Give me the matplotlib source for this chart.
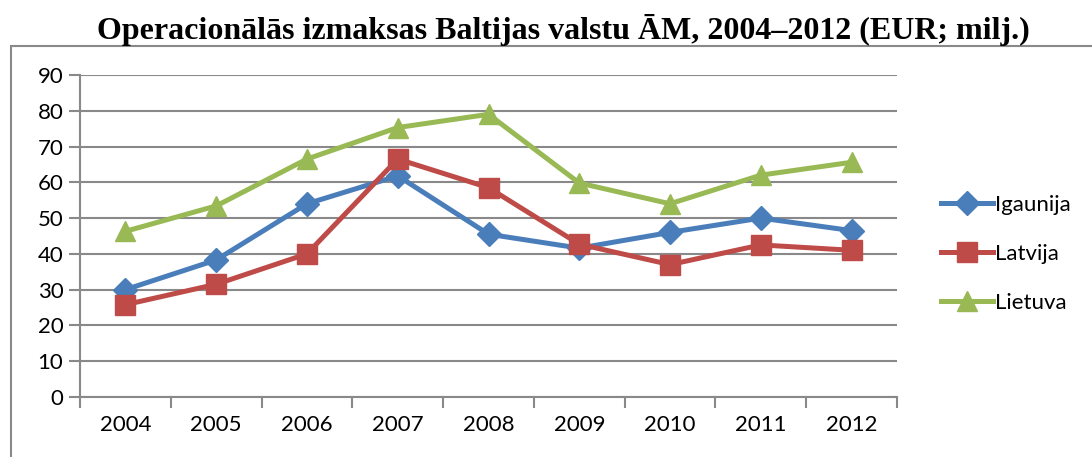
import matplotlib
matplotlib.use('Agg')
from matplotlib import pyplot as plt
from matplotlib.patches import Rectangle

years = ['2004', '2005', '2006', '2007', '2008', '2009', '2010', '2011', '2012']
igaunija = [30.0, 38.3, 54.0, 61.8, 45.5, 41.6, 46.0, 50.0, 46.5]
latvija = [25.8, 31.5, 40.0, 66.5, 58.5, 42.7, 37.0, 42.5, 41.0]
lietuva = [46.3, 53.4, 66.5, 75.3, 79.0, 59.8, 54.0, 62.0, 65.6]

plt.rcParams['font.family'] = ['Lato', 'DejaVu Sans']

fig = plt.figure(figsize=(10.92, 4.57), dpi=100)
ax = fig.add_axes([0.0733, 0.1313, 0.7481, 0.7047])

x = list(range(len(years)))
ax.plot(x, igaunija, color='#4A7EBB', lw=3.6, marker='D', ms=12, label='Igaunija')
ax.plot(x, latvija, color='#BE4B48', lw=3.6, marker='s', ms=14, label='Latvija')
ax.plot(x, lietuva, color='#98B954', lw=3.6, marker='^', ms=14, label='Lietuva')

ax.set_xlim(-0.5, 8.5)
ax.set_ylim(0, 90)
ax.set_yticks(range(0, 91, 10))
ax.set_xticks(x)
ax.set_xticklabels(years)
ax.set_xticks([i - 0.5 for i in range(10)], minor=True)
ax.tick_params(axis='x', which='major', length=0, pad=13, labelsize=16)
ax.tick_params(axis='x', which='minor', length=8, width=1.5, color='#898989', direction='out')
ax.tick_params(axis='y', length=8, width=1.5, color='#898989', labelsize=16, pad=4)
ax.yaxis.grid(True, color='#898989', lw=1.5)
ax.set_axisbelow(True)
for s in ['top', 'right']:
    ax.spines[s].set_visible(False)
for s in ['left', 'bottom']:
    ax.spines[s].set_color('#898989')
    ax.spines[s].set_linewidth(1.5)

leg = ax.legend(loc='center left', bbox_to_anchor=(1.03, 0.444), frameon=False,
                fontsize=16, handlelength=2.3, handletextpad=0.1, labelspacing=1.3)

# outer chart frame
fig.patches.append(Rectangle((11 / 1092, -0.1), 1.2, (457 - 46) / 457 + 0.1,
                             transform=fig.transFigure, fill=False,
                             edgecolor='#898989', lw=1.5))

fig.text(0.516, 0.934, 'Operacionālās izmaksas Baltijas valstu ĀM, 2004–2012 (EUR; milj.)',
         ha='center', va='center', fontsize=23, fontweight='bold',
         family='Liberation Serif')

plt.savefig('out.png', dpi=100)
